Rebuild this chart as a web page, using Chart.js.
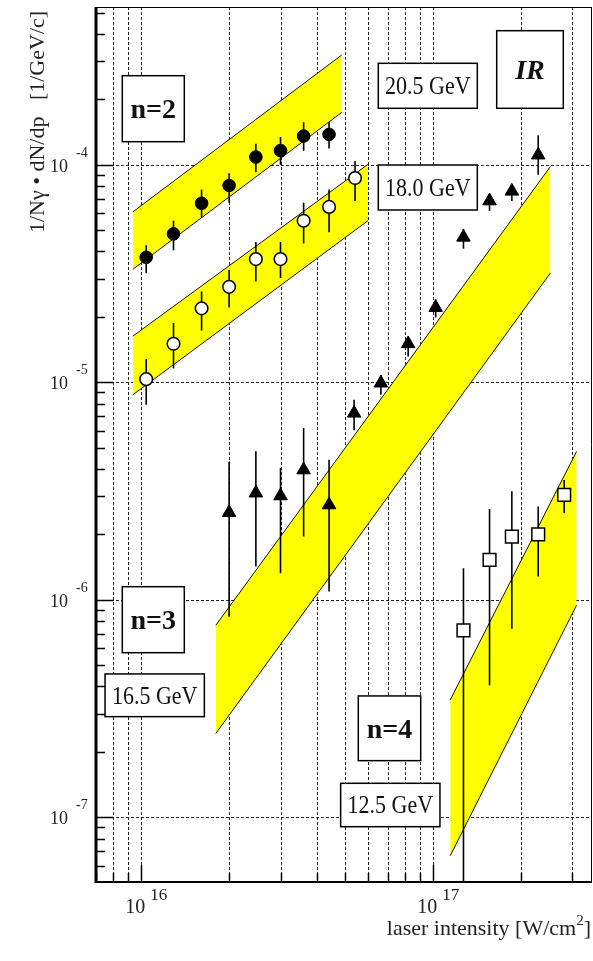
<!DOCTYPE html>
<html>
<head>
<meta charset="utf-8">
<script src="https://cdn.jsdelivr.net/npm/chart.js@4/dist/chart.umd.min.js"></script>
<style>
html,body{margin:0;padding:0;background:#fff;}
canvas{display:block;}
</style>
</head>
<body>
<canvas id="c" width="593" height="961"></canvas>
<script>
// ---------- data ----------
const xTickLabels = ['16', '17'];          // exponents of labelled x decades
const yTickLabels = ['-4', '-5', '-6', '-7']; // exponents of labelled y decades

// n=2, 20.5 GeV (filled circles)
const xN2a = [1.04e16, 1.29e16, 1.61e16, 2.0e16, 2.47e16, 3.0e16, 3.6e16, 4.4e16];
const yN2a = [3.76e-5, 4.82e-5, 6.66e-5, 8.04e-5, 1.087e-4, 1.164e-4, 1.357e-4, 1.381e-4];
const yN2aLo = [3.18e-5, 4.05e-5, 5.73e-5, 6.70e-5, 9.26e-5, 1.0e-4, 1.161e-4, 1.19e-4];
const yN2aHi = [4.27e-5, 5.54e-5, 7.70e-5, 9.16e-5, 1.252e-4, 1.343e-4, 1.571e-4, 1.571e-4];

// n=2, 18.0 GeV (open circles)
const xN2b = [1.04e16, 1.29e16, 1.61e16, 2.0e16, 2.47e16, 3.0e16, 3.6e16, 4.4e16, 5.4e16];
const yN2b = [1.035e-5, 1.506e-5, 2.19e-5, 2.75e-5, 3.69e-5, 3.69e-5, 5.54e-5, 6.41e-5, 8.70e-5];
const yN2bLo = [7.89e-6, 1.16e-5, 1.73e-5, 2.21e-5, 2.91e-5, 3.02e-5, 4.35e-5, 4.90e-5, 6.83e-5];
const yN2bHi = [1.28e-5, 1.875e-5, 2.62e-5, 3.29e-5, 4.42e-5, 4.42e-5, 6.70e-5, 7.70e-5, 1.043e-4];

// n=3, 16.5 GeV (triangles)
const xN3 = [2.0e16, 2.47e16, 3.0e16, 3.6e16, 4.4e16, 5.36e16, 6.62e16, 8.21e16, 1.02e17, 1.27e17, 1.56e17, 1.86e17, 2.29e17];
const yN3 = [2.52e-6, 3.10e-6, 3.01e-6, 3.96e-6, 2.735e-6, 7.22e-6, 9.93e-6, 1.506e-5, 2.21e-5, 4.65e-5, 6.83e-5, 7.57e-5, 1.11e-4];
const yN3Lo = [8.36e-7, 1.424e-6, 1.327e-6, 1.957e-6, 1.094e-6, 6.03e-6, 8.77e-6, 1.315e-5, 1.99e-5, 4.12e-5, 6.15e-5, 6.83e-5, 9.01e-5];
const yN3Hi = [4.33e-6, 4.82e-6, 4.04e-6, 6.17e-6, 4.41e-6, 8.32e-6, 1.082e-5, 1.62e-5, 2.41e-5, 5.08e-5, 7.31e-5, 7.98e-5, 1.368e-4];

// n=4, 12.5 GeV (open squares)
const xN4 = [1.27e17, 1.56e17, 1.86e17, 2.29e17, 2.81e17];
const yN4 = [7.24e-7, 1.528e-6, 1.957e-6, 2.0e-6, 3.04e-6];
const yN4Lo = [3.0e-8, 4.05e-7, 7.38e-7, 1.28e-6, 2.51e-6];
const yN4Hi = [1.398e-6, 2.62e-6, 3.16e-6, 2.69e-6, 3.56e-6];

// simulation bands (left/right x, upper and lower edge values)
const bandN2aX = [9.36e15, 4.86e16];
const bandN2aTop = [6.08e-5, 3.20e-4];
const bandN2aBot = [3.31e-5, 1.742e-4];
const bandN2bX = [9.36e15, 5.98e16];
const bandN2bTop = [1.632e-5, 1.006e-4];
const bandN2bBot = [8.77e-6, 5.54e-5];
const bandN3X = [1.80e16, 2.52e17];
const bandN3Top = [7.64e-7, 9.82e-5];
const bandN3Bot = [2.43e-7, 3.18e-5];
const bandN4X = [1.144e17, 3.10e17];
const bandN4Top = [3.47e-7, 4.82e-6];
const bandN4Bot = [6.67e-8, 9.47e-7];

// ---------- helpers ----------
const pts = (xs, ys) => xs.map((x, i) => ({x: x, y: ys[i]}));
const YELLOW = '#ffff00';
const SERIF = '"Liberation Serif", "DejaVu Serif", serif';

function bandSets(xs, top, bot) {
  return [
    {type: 'line', data: pts(xs, top), borderColor: '#111', borderWidth: 1, pointRadius: 0, fill: false, order: 10, tension: 0},
    {type: 'line', data: pts(xs, bot), borderColor: '#111', borderWidth: 1, pointRadius: 0, fill: '-1', backgroundColor: YELLOW, order: 10, tension: 0}
  ];
}

const datasets = [
  {type: 'scatter', data: pts(xN2a, yN2a), errLo: yN2aLo, errHi: yN2aHi, pointStyle: 'circle', pointRadius: 6.3, backgroundColor: '#000', borderColor: '#000', borderWidth: 1, order: 0},
  {type: 'scatter', data: pts(xN2b, yN2b), errLo: yN2bLo, errHi: yN2bHi, pointStyle: 'circle', pointRadius: 6.3, backgroundColor: '#fff', borderColor: '#000', borderWidth: 1.5, order: 0},
  {type: 'scatter', data: pts(xN3, yN3), errLo: yN3Lo, errHi: yN3Hi, pointStyle: 'triangle', pointRadius: 7.8, backgroundColor: '#000', borderColor: '#000', borderWidth: 1, order: 0},
  {type: 'scatter', data: pts(xN4, yN4), errLo: yN4Lo, errHi: yN4Hi, pointStyle: 'rect', pointRadius: 9, backgroundColor: '#fff', borderColor: '#000', borderWidth: 1.5, order: 0},
  ...bandSets(bandN2aX, bandN2aTop, bandN2aBot),
  ...bandSets(bandN2bX, bandN2bTop, bandN2bBot),
  ...bandSets(bandN3X, bandN3Top, bandN3Bot),
  ...bandSets(bandN4X, bandN4Top, bandN4Bot)
];

function decadesIn(min, max) {
  const out = [];
  for (let e = Math.floor(Math.log10(min)); e <= Math.ceil(Math.log10(max)); e++) {
    for (let m = 1; m <= 9; m++) {
      const v = m * Math.pow(10, e);
      if (v >= min * 0.999 && v <= max * 1.001) out.push({v: v, major: m === 1, exp: e});
    }
  }
  return out;
}

// grid (under data)
const gridPlugin = {
  id: 'grid',
  beforeDatasetsDraw(chart) {
    const {ctx, chartArea: a, scales: {x, y}} = chart;
    ctx.save();
    ctx.strokeStyle = '#222';
    ctx.lineWidth = 1;
    ctx.setLineDash([3, 2]);
    decadesIn(x.min, x.max).forEach(t => {
      const px = Math.round(x.getPixelForValue(t.v)) + 0.5;
      ctx.beginPath(); ctx.moveTo(px, a.top); ctx.lineTo(px, a.bottom); ctx.stroke();
    });
    decadesIn(y.min, y.max).filter(t => t.major).forEach(t => {
      const py = Math.round(y.getPixelForValue(t.v)) + 0.5;
      ctx.beginPath(); ctx.moveTo(a.left, py); ctx.lineTo(a.right, py); ctx.stroke();
    });
    ctx.restore();
  }
};

// error bars (drawn just before each marker dataset)
const errPlugin = {
  id: 'errbars',
  beforeDatasetDraw(chart, args) {
    const ds = chart.data.datasets[args.index];
    if (!ds.errLo) return;
    const {ctx, chartArea: a, scales: {x, y}} = chart;
    ctx.save();
    ctx.beginPath(); ctx.rect(a.left, a.top, a.right - a.left, a.bottom - a.top); ctx.clip();
    ctx.strokeStyle = '#000';
    ctx.lineWidth = 1.6;
    ds.data.forEach((p, i) => {
      const px = x.getPixelForValue(p.x);
      ctx.beginPath();
      ctx.moveTo(px, y.getPixelForValue(ds.errHi[i]));
      ctx.lineTo(px, y.getPixelForValue(ds.errLo[i]));
      ctx.stroke();
    });
    ctx.restore();
  }
};

function box(ctx, cx, cy, w, h, text, font, size, vscale) {
  ctx.save();
  ctx.fillStyle = '#fff';
  ctx.fillRect(cx - w / 2, cy - h / 2, w, h);
  ctx.strokeStyle = '#000';
  ctx.lineWidth = 1.5;
  ctx.strokeRect(cx - w / 2, cy - h / 2, w, h);
  ctx.fillStyle = '#111';
  ctx.font = font;
  ctx.textAlign = 'center';
  ctx.textBaseline = 'alphabetic';
  ctx.translate(cx, cy + size * 0.34 * vscale);
  ctx.scale(1, vscale);
  ctx.fillText(text, 0, 0);
  ctx.restore();
}

// frame, ticks, labels, annotation boxes
const decoPlugin = {
  id: 'deco',
  afterDatasetsDraw(chart) {
    const {ctx, chartArea: a, scales: {x, y}} = chart;
    ctx.save();
    ctx.strokeStyle = '#000';
    ctx.setLineDash([]);
    // ticks
    ctx.lineWidth = 1.5;
    decadesIn(y.min, y.max).forEach(t => {
      const py = Math.round(y.getPixelForValue(t.v)) + 0.5;
      ctx.beginPath(); ctx.moveTo(a.left, py); ctx.lineTo(a.left + (t.major ? 17 : 9), py); ctx.stroke();
    });
    decadesIn(x.min, x.max).forEach(t => {
      const px = Math.round(x.getPixelForValue(t.v)) + 0.5;
      ctx.beginPath(); ctx.moveTo(px, a.bottom); ctx.lineTo(px, a.bottom - (t.major ? 17 : 9)); ctx.stroke();
    });
    // frame
    ctx.lineWidth = 1;
    ctx.beginPath(); ctx.moveTo(a.left, a.top + 0.5); ctx.lineTo(a.right, a.top + 0.5); ctx.stroke();
    ctx.beginPath(); ctx.moveTo(a.right - 0.5, a.top); ctx.lineTo(a.right - 0.5, a.bottom); ctx.stroke();
    ctx.lineWidth = 2;
    ctx.beginPath(); ctx.moveTo(a.left - 1, a.bottom); ctx.lineTo(a.right, a.bottom); ctx.stroke();
    ctx.lineWidth = 3;
    ctx.beginPath(); ctx.moveTo(a.left, a.top); ctx.lineTo(a.left, a.bottom + 1); ctx.stroke();

    // tick labels
    ctx.fillStyle = '#222';
    ctx.textBaseline = 'alphabetic';
    yTickLabels.forEach(e => {
      const py = y.getPixelForValue(Math.pow(10, Number(e)));
      ctx.font = '18px ' + SERIF;
      ctx.textAlign = 'right';
      ctx.fillText('10', 68, py + 7);
      ctx.font = '14px ' + SERIF;
      ctx.textAlign = 'left';
      ctx.fillText(e, 76, py - 8);
    });
    xTickLabels.forEach(e => {
      const px = x.getPixelForValue(Math.pow(10, Number(e)));
      ctx.font = '20px ' + SERIF;
      ctx.textAlign = 'right';
      ctx.fillText('10', px + 4, 913);
      ctx.font = '17px ' + SERIF;
      ctx.textAlign = 'left';
      ctx.fillText(e, px + 9, 900);
    });

    // axis titles
    const big = 22, small = 15;
    ctx.font = big + 'px ' + SERIF;
    const t1 = 'laser intensity [W/cm', t2 = '2', t3 = ']';
    const w1 = ctx.measureText(t1).width, w3 = ctx.measureText(t3).width;
    ctx.font = small + 'px ' + SERIF;
    const w2 = ctx.measureText(t2).width;
    let sx = 591 - (w1 + w2 + w3);
    ctx.textAlign = 'left';
    ctx.font = big + 'px ' + SERIF;
    ctx.fillText(t1, sx, 935);
    ctx.font = small + 'px ' + SERIF;
    ctx.fillText(t2, sx + w1, 925);
    ctx.font = big + 'px ' + SERIF;
    ctx.fillText(t3, sx + w1 + w2, 935);

    ctx.save();
    ctx.translate(44, 233);
    ctx.rotate(-Math.PI / 2);
    ctx.font = '22px ' + SERIF;
    ctx.textAlign = 'left';
    ctx.fillText('1/N\u03b3 \u2022 dN/dp   [1/GeV/c]', 0, 0);
    ctx.restore();
    ctx.restore();

    // annotation boxes
    const bold = 'bold 28px ' + SERIF, reg = '22px ' + SERIF;
    box(ctx, 153.3, 108.7, 62, 66, 'n=2', bold, 28, 1);
    box(ctx, 427.8, 85.8, 99, 45, '20.5 GeV', reg, 22, 1.12);
    box(ctx, 530, 69.5, 66.6, 77.6, 'IR', 'italic bold 28px ' + SERIF, 28, 1);
    box(ctx, 427.8, 187.5, 99, 45, '18.0 GeV', reg, 22, 1.12);
    box(ctx, 153.3, 619.7, 62, 66, 'n=3', bold, 28, 1);
    box(ctx, 154.7, 695.3, 99.3, 42.7, '16.5 GeV', reg, 22, 1.12);
    box(ctx, 389.5, 728.3, 62.4, 64.7, 'n=4', bold, 28, 1);
    box(ctx, 390.3, 805, 99.3, 43.4, '12.5 GeV', reg, 22, 1.12);
  }
};

new Chart(document.getElementById('c'), {
  type: 'scatter',
  data: {datasets: datasets},
  options: {
    responsive: false,
    animation: false,
    devicePixelRatio: 1,
    layout: {autoPadding: false, padding: {left: 96, right: 1, top: 7, bottom: 79}},
    plugins: {legend: {display: false}, tooltip: {enabled: false}, filler: {propagate: false}},
    scales: {
      x: {type: 'logarithmic', min: 7e15, max: 3.5e17, display: false},
      y: {type: 'logarithmic', min: 5.05e-8, max: 5.32e-4, display: false}
    }
  },
  plugins: [gridPlugin, errPlugin, decoPlugin]
});
</script>
</body>
</html>
